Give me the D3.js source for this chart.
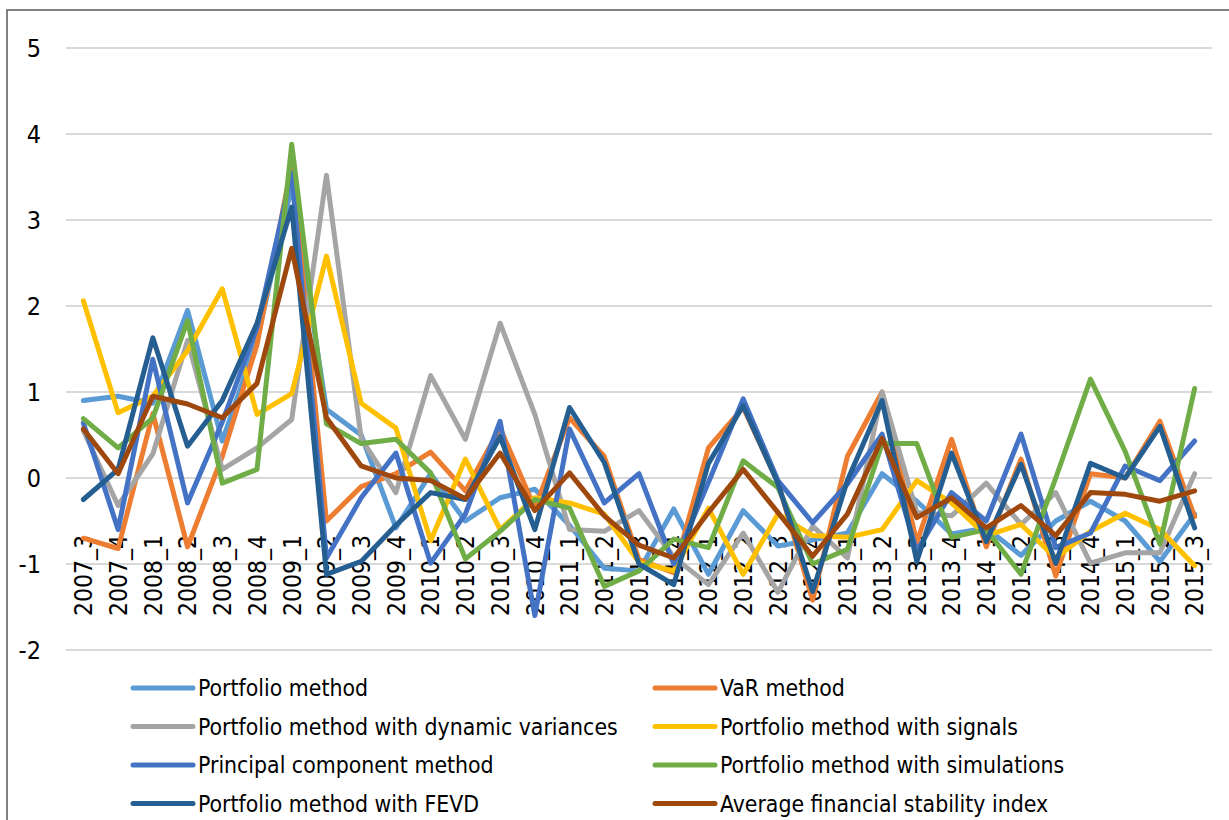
<!DOCTYPE html>
<html lang="en">
<head>
    <meta charset="UTF-8">
    <title>Financial stability index by method</title>
    <script src="https://d3js.org/d3.v7.min.js"></script>
    <style>
        body { margin: 0; background: #fff; }
        svg text {
            font-family: "DejaVu Sans Condensed", "DejaVu Sans", sans-serif;
            font-stretch: condensed;
            fill: #000;
        }
    </style>
</head>
<body>
    <svg width="1229" height="820"></svg>

    <script>
        const categories = ["2007_3", "2007_4", "2008_1", "2008_2", "2008_3", "2008_4", "2009_1", "2009_2", "2009_3", "2009_4",
            "2010_1", "2010_2", "2010_3", "2010_4", "2011_1", "2011_2", "2011_3", "2011_4", "2012_1", "2012_2",
            "2012_3", "2012_4", "2013_1", "2013_2", "2013_3", "2013_4", "2014_1", "2014_2", "2014_3", "2014_4",
            "2015_1", "2015_2", "2015_3"];

        const portfolio = [0.9, 0.95, 0.87, 1.95, 0.43, 1.6, 3.4, 0.8, 0.5, -0.58, 0.05, -0.5, -0.23, -0.13, -0.55, -1.05, -1.08,
            -0.36, -1.12, -0.38, -0.79, -0.72, -0.64, 0.05, -0.27, -0.65, -0.58, -0.9, -0.5, -0.27, -0.5, -0.97, -0.42];
        const varMethod = [-0.7, -0.82, 0.75, -0.8, 0.25, 1.55, 3.65, -0.5, -0.1, 0.05, 0.3, -0.15, 0.58, -0.35, 0.7, 0.25, -0.95,
            -1.1, 0.35, 0.82, -0.05, -1.42, 0.25, 1.0, -0.75, 0.45, -0.8, 0.22, -1.14, 0.05, 0.0, 0.66, -0.45];
        const dynVariances = [0.55, -0.32, 0.28, 1.6, 0.1, 0.35, 0.68, 3.52, 0.46, -0.17, 1.19, 0.45, 1.8, 0.74, -0.6, -0.62, -0.38,
            -0.92, -1.24, -0.64, -1.33, -0.56, -0.93, 1.0, -0.4, -0.44, -0.06, -0.54, -0.17, -0.99, -0.87, -0.87, 0.05];
        const signals = [2.06, 0.76, 0.95, 1.48, 2.2, 0.74, 0.98, 2.58, 0.87, 0.58, -0.73, 0.22, -0.6, -0.23, -0.29, -0.42, -0.98,
            -1.08, -0.35, -1.12, -0.42, -0.67, -0.69, -0.6, -0.03, -0.29, -0.67, -0.54, -0.93, -0.62, -0.41, -0.6, -1.02];
        const principal = [0.64, -0.6, 1.38, -0.29, 0.65, 1.75, 3.55, -0.93, -0.23, 0.29, -0.99, -0.42, 0.66, -1.6, 0.57, -0.29, 0.05,
            -1.0, -0.05, 0.92, -0.03, -0.52, -0.07, 0.51, -0.85, -0.17, -0.5, 0.51, -0.81, -0.64, 0.14, -0.03, 0.43];
        const simulations = [0.69, 0.35, 0.7, 1.83, -0.06, 0.1, 3.88, 0.63, 0.4, 0.45, 0.06, -0.94, -0.62, -0.25, -0.35, -1.26, -1.08,
            -0.71, -0.81, 0.2, -0.11, -1.0, -0.83, 0.4, 0.4, -0.69, -0.6, -1.12, 0.0, 1.15, 0.31, -0.77, 1.04];
        const fevd = [-0.25, 0.1, 1.63, 0.37, 0.9, 1.8, 3.15, -1.12, -0.97, -0.55, -0.17, -0.25, 0.48, -0.6, 0.82, 0.18, -1.0,
            -1.24, 0.17, 0.84, -0.06, -1.32, -0.03, 0.9, -0.97, 0.29, -0.74, 0.16, -0.99, 0.17, 0.0, 0.6, -0.58];
        const average = [0.57, 0.05, 0.95, 0.86, 0.7, 1.1, 2.67, 0.7, 0.14, 0.0, -0.03, -0.24, 0.29, -0.38, 0.06, -0.44, -0.78,
            -0.93, -0.4, 0.1, -0.4, -0.91, -0.42, 0.46, -0.46, -0.23, -0.58, -0.32, -0.67, -0.17, -0.19, -0.27, -0.15];

        const seriesNames = ["Portfolio method", "VaR method", "Portfolio method with dynamic variances",
            "Portfolio method with signals", "Principal component method", "Portfolio method with simulations",
            "Portfolio method with FEVD", "Average financial stability index"];
        const yTicks = [-2, -1, 0, 1, 2, 3, 4, 5];

        const colors = ["#5B9BD5", "#ED7D31", "#A5A5A5", "#FFC000", "#4472C4", "#70AD47", "#255E91", "#9E480E"];
        const series = [portfolio, varMethod, dynVariances, signals, principal, simulations, fevd, average]
            .map((values, i) => ({ name: seriesNames[i], values, color: colors[i] }));

        const svg = d3.select("svg");

        // outer chart border
        svg.append("rect")
            .attr("x", 7).attr("y", 10)
            .attr("width", 1260).attr("height", 840)
            .attr("fill", "none")
            .attr("stroke", "#595959")
            .attr("stroke-width", 1.5);

        const x = d3.scaleBand()
            .domain(categories)
            .range([66, 1212]);
        const cx = c => x(c) + x.bandwidth() / 2;

        const y = d3.scaleLinear()
            .domain([-2, 5])
            .range([650, 48]);

        // gridlines
        svg.append("g")
            .selectAll("line")
            .data(yTicks)
            .join("line")
            .attr("x1", 66).attr("x2", 1212)
            .attr("y1", d => y(d)).attr("y2", d => y(d))
            .attr("stroke", "#D9D9D9")
            .attr("stroke-width", 2);

        // y tick labels
        svg.append("g")
            .selectAll("text")
            .data(yTicks)
            .join("text")
            .attr("x", 41)
            .attr("y", d => y(d))
            .attr("dy", "0.36em")
            .attr("text-anchor", "end")
            .style("font-size", "25px")
            .text(d => d);

        // category labels, rotated, sitting below the zero line
        svg.append("g")
            .selectAll("text")
            .data(categories)
            .join("text")
            .attr("transform", d => `translate(${cx(d)}, 616) rotate(-90)`)
            .attr("dy", "0.36em")
            .attr("text-anchor", "start")
            .style("font-size", "24.5px")
            .text(d => d);

        const line = d3.line()
            .x((d, i) => cx(categories[i]))
            .y(d => y(d));

        svg.append("g")
            .selectAll("path")
            .data(series)
            .join("path")
            .attr("d", d => line(d.values))
            .attr("fill", "none")
            .attr("stroke", d => d.color)
            .attr("stroke-width", 5)
            .attr("stroke-linejoin", "round")
            .attr("stroke-linecap", "round");

        // legend: two columns, four rows
        const legend = svg.append("g")
            .selectAll("g")
            .data(series)
            .join("g")
            .attr("transform", (d, i) => `translate(${i % 2 === 0 ? 133 : 655}, ${688 + Math.floor(i / 2) * 38.5})`);

        legend.append("line")
            .attr("x1", 0).attr("x2", 60)
            .attr("stroke", d => d.color)
            .attr("stroke-width", 5)
            .attr("stroke-linecap", "round");

        legend.append("text")
            .attr("x", 65)
            .attr("dy", "0.36em")
            .style("font-size", "22.8px")
            .text(d => d.name);
    </script>
</body>
</html>
